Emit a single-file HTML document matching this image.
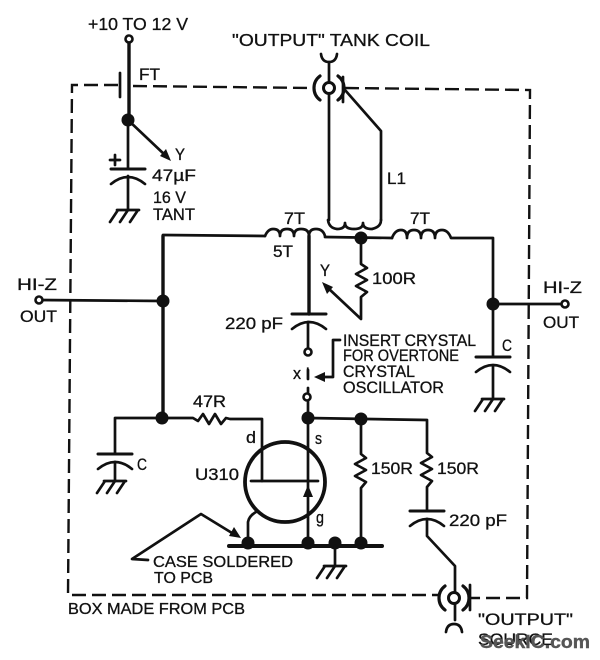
<!DOCTYPE html>
<html>
<head>
<meta charset="utf-8">
<style>
html,body{margin:0;padding:0;background:#fff}
svg{display:block}
text{font-family:"Liberation Sans",sans-serif;font-size:16.5px;fill:#111;stroke:#111;stroke-width:.3px}
.w{fill:none;stroke:#111;stroke-width:2.7;stroke-linejoin:round;stroke-linecap:round}
.t{fill:none;stroke:#111;stroke-width:3.4;stroke-linecap:round}
.d{fill:none;stroke:#111;stroke-width:2.4;stroke-dasharray:14 6}
.o{fill:#fff;stroke:#111;stroke-width:2.6}
.f{fill:#111;stroke:none}
</style>
</head>
<body>
<svg width="600" height="660" viewBox="0 0 600 660" xmlns="http://www.w3.org/2000/svg">
<defs>
<g id="gnd"><path class="w" d="M-11 0H11M-10 0L-18 12M0 0L-8 12M10 0L2 12"/></g>
<g id="cap"><path class="w" d="M-17 0H17" style="stroke-width:3"/><path class="w" d="M-17 15Q0 1 17 15"/></g>
</defs>

<!-- box -->
<path class="d" d="M118 85H72L68 595H440"/>
<path class="d" d="M133 86L313 88"/>
<path class="d" d="M345 88L530 90L527 598H470"/>

<!-- supply -->
<circle class="o" cx="129" cy="39" r="3.5"/>
<path class="t" d="M129 43V120"/>
<path class="w" d="M120 73V97"/>
<circle class="f" cx="128" cy="120" r="6.5"/>
<path class="w" d="M128 120L165 155"/>
<path class="f" d="M171 161L160 156L166 149Z"/>
<path class="w" d="M128 120V169M128 176V210"/>
<path class="w" d="M110 160H120M115 155V165"/>
<use href="#cap" x="128" y="169"/>
<use href="#gnd" x="128" y="210"/>

<!-- top coax -->
<path class="w" d="M321 54Q322 62 329 62Q336 62 337 54M329 62V220"/>
<path class="w" d="M320 76A15 15 0 0 0 320 100M338 76A15 15 0 0 1 338 100" style="stroke-width:3.2"/>
<path class="w" d="M343 77V102"/>
<circle class="o" cx="329" cy="88" r="5.5" style="stroke-width:3"/>
<path class="w" d="M345 90L381 131V220"/>
<path class="w" d="M328 220Q329 228 337 229Q345 229 345 223Q345 229 354 229Q363 229 363 223Q363 229 372 229Q381 227 381 220"/>

<!-- main rail and coils -->
<path class="w" d="M39 300L163 301"/>
<circle class="o" cx="39" cy="300" r="3.5"/>
<path class="t" d="M163 236V418"/>
<path class="w" d="M163 235L265 236"/>
<path class="w" d="M265 236Q268 229 273 229Q280 229 280 236Q280 229 287 229Q294 229 294 236Q294 229 301 229Q309 229 309 236Q309 229 316 229Q323 229 325 236"/>
<path class="w" d="M325 237L392 238"/>
<path class="w" d="M392 238Q395 230 401 230Q407 230 407 238Q407 230 414 230Q421 230 421 238Q421 230 428 230Q435 230 435 238Q435 230 442 230Q448 230 451 238H493V356" />
<circle class="f" cx="361" cy="238" r="6.5"/>
<circle class="f" cx="163" cy="301" r="6.5"/>
<circle class="f" cx="493" cy="304" r="6.5"/>
<path class="w" d="M493 304H562"/>
<circle class="o" cx="565" cy="304" r="3.5"/>
<use href="#cap" x="493" y="357"/>
<path class="w" d="M493 366V399"/>
<use href="#gnd" x="493" y="399"/>

<!-- 100R -->
<path class="w" d="M361 238V264L367 268L356 274L367 280L356 286L367 292L361 297V319L328 288"/>
<path class="f" d="M322 282L333 287L327 294Z"/>

<!-- centre -->
<path class="t" d="M309 236V314"/>
<use href="#cap" x="309" y="314"/>
<path class="w" d="M308 322V348"/>
<circle class="o" cx="308" cy="352" r="3.5"/>
<path class="w" d="M308 370V379"/>
<circle class="o" cx="307" cy="397" r="3.5"/>
<path class="w" d="M308 388V393M308 401V545"/>
<path class="w" d="M340 340H333V377H322"/>
<path class="f" d="M314 377L325 372V382Z"/>

<!-- 47R & left cap -->
<path class="w" d="M115 454V418H193L198 421L203 414L209 424L215 414L221 424L226 418L230 419H262V481"/>
<circle class="f" cx="162" cy="418" r="6.5"/>
<use href="#cap" x="115" y="454"/>
<path class="w" d="M115 462V481"/>
<use href="#gnd" x="115" y="481"/>

<!-- FET -->
<circle cx="285" cy="482" r="40" fill="none" stroke="#111" stroke-width="3.8"/>
<path class="w" d="M251 481H318"/>
<path class="f" d="M308 485L313 497H303Z"/>
<path class="w" d="M248 543V522Q249 516 256 512"/>
<path class="t" d="M229 546H382" style="stroke-width:4"/>
<circle class="f" cx="248" cy="543" r="6.5"/>
<circle class="f" cx="308" cy="543" r="6.5"/>
<circle class="f" cx="335" cy="543" r="6.5"/>
<circle class="f" cx="361" cy="543" r="6.5"/>
<path class="w" d="M335 546V566"/>
<use href="#gnd" x="335" y="566"/>

<!-- case pointer -->
<path class="w" d="M148 560L132 559L201 514L232 533"/>
<path class="f" d="M241 538L229 536L234 527Z"/>

<!-- source side -->
<circle class="f" cx="308" cy="418" r="6.5"/>
<circle class="f" cx="361" cy="419" r="6.5"/>
<path class="w" d="M308 418L427 420V453L432 457L421 463L432 469L421 475L432 481L427 487V511"/>
<path class="w" d="M361 419V454L366 458L355 464L366 470L355 476L366 482L361 488V543"/>
<use href="#cap" x="427" y="511"/>
<path class="w" d="M427 519V536L455 566V620"/>
<path class="w" d="M446 632Q447 624 454 624Q461 624 462 632"/>
<path class="w" d="M445 586A15 15 0 0 0 445 610M463 586A15 15 0 0 1 463 610" style="stroke-width:3.2"/>
<path class="w" d="M470 585V610"/>
<circle class="o" cx="454" cy="598" r="5.5" style="stroke-width:3"/>

<!-- labels -->
<text x="88" y="30" textLength="100" lengthAdjust="spacingAndGlyphs" style="font-size:17.5px">+10 TO 12 V</text>
<text x="232" y="46" textLength="198" lengthAdjust="spacingAndGlyphs" style="font-size:17.5px">"OUTPUT" TANK COIL</text>
<text x="139" y="80" textLength="21" lengthAdjust="spacingAndGlyphs">FT</text>
<text x="175" y="160" textLength="10" lengthAdjust="spacingAndGlyphs">Y</text>
<text x="152" y="181" textLength="44" lengthAdjust="spacingAndGlyphs">47µF</text>
<text x="153" y="203" textLength="33" lengthAdjust="spacingAndGlyphs">16 V</text>
<text x="153" y="220" textLength="42" lengthAdjust="spacingAndGlyphs">TANT</text>
<text x="284" y="224" textLength="21" lengthAdjust="spacingAndGlyphs">7T</text>
<text x="273" y="257" textLength="20" lengthAdjust="spacingAndGlyphs">5T</text>
<text x="387" y="184" textLength="19" lengthAdjust="spacingAndGlyphs">L1</text>
<text x="410" y="224" textLength="20" lengthAdjust="spacingAndGlyphs">7T</text>
<text x="320" y="276" textLength="10" lengthAdjust="spacingAndGlyphs">Y</text>
<text x="372" y="284" textLength="44" lengthAdjust="spacingAndGlyphs">100R</text>
<text x="17" y="290" textLength="40" lengthAdjust="spacingAndGlyphs">HI-Z</text>
<text x="20" y="322" textLength="37" lengthAdjust="spacingAndGlyphs">OUT</text>
<text x="543" y="293" textLength="39" lengthAdjust="spacingAndGlyphs">HI-Z</text>
<text x="543" y="328" textLength="36" lengthAdjust="spacingAndGlyphs">OUT</text>
<text x="225" y="329" textLength="58" lengthAdjust="spacingAndGlyphs">220 pF</text>
<text x="343" y="346" textLength="133" lengthAdjust="spacingAndGlyphs">INSERT CRYSTAL</text>
<text x="343" y="361" textLength="116" lengthAdjust="spacingAndGlyphs">FOR OVERTONE</text>
<text x="343" y="377" textLength="72" lengthAdjust="spacingAndGlyphs">CRYSTAL</text>
<text x="343" y="393" textLength="101" lengthAdjust="spacingAndGlyphs">OSCILLATOR</text>
<text x="502" y="351" textLength="10" lengthAdjust="spacingAndGlyphs">C</text>
<text x="293" y="379" textLength="17" lengthAdjust="spacingAndGlyphs">x I</text>
<text x="193" y="407" textLength="33" lengthAdjust="spacingAndGlyphs">47R</text>
<text x="246" y="443" textLength="10" lengthAdjust="spacingAndGlyphs">d</text>
<text x="315" y="444" textLength="7" lengthAdjust="spacingAndGlyphs">s</text>
<text x="316" y="523" textLength="8" lengthAdjust="spacingAndGlyphs">g</text>
<text x="195" y="480" textLength="44" lengthAdjust="spacingAndGlyphs">U310</text>
<text x="137" y="470" textLength="10" lengthAdjust="spacingAndGlyphs">C</text>
<text x="153" y="567" textLength="140" lengthAdjust="spacingAndGlyphs" style="font-size:15.5px">CASE SOLDERED</text>
<text x="154" y="583" textLength="59" lengthAdjust="spacingAndGlyphs" style="font-size:15.5px">TO PCB</text>
<text x="68" y="614" textLength="177" lengthAdjust="spacingAndGlyphs" style="font-size:15.5px">BOX MADE FROM PCB</text>
<text x="371" y="474" textLength="42" lengthAdjust="spacingAndGlyphs">150R</text>
<text x="437" y="474" textLength="42" lengthAdjust="spacingAndGlyphs">150R</text>
<text x="449" y="526" textLength="58" lengthAdjust="spacingAndGlyphs">220 pF</text>
<text x="478" y="625" textLength="95" lengthAdjust="spacingAndGlyphs">"OUTPUT"</text>
<text x="478" y="645" textLength="75" lengthAdjust="spacingAndGlyphs">SOURCE</text>
<text x="480" y="648" textLength="110" lengthAdjust="spacingAndGlyphs" style="font-size:18px;font-weight:bold;fill:#555;stroke:#555;stroke-width:.4px">SeekIC.com</text>
</svg>
</body>
</html>
